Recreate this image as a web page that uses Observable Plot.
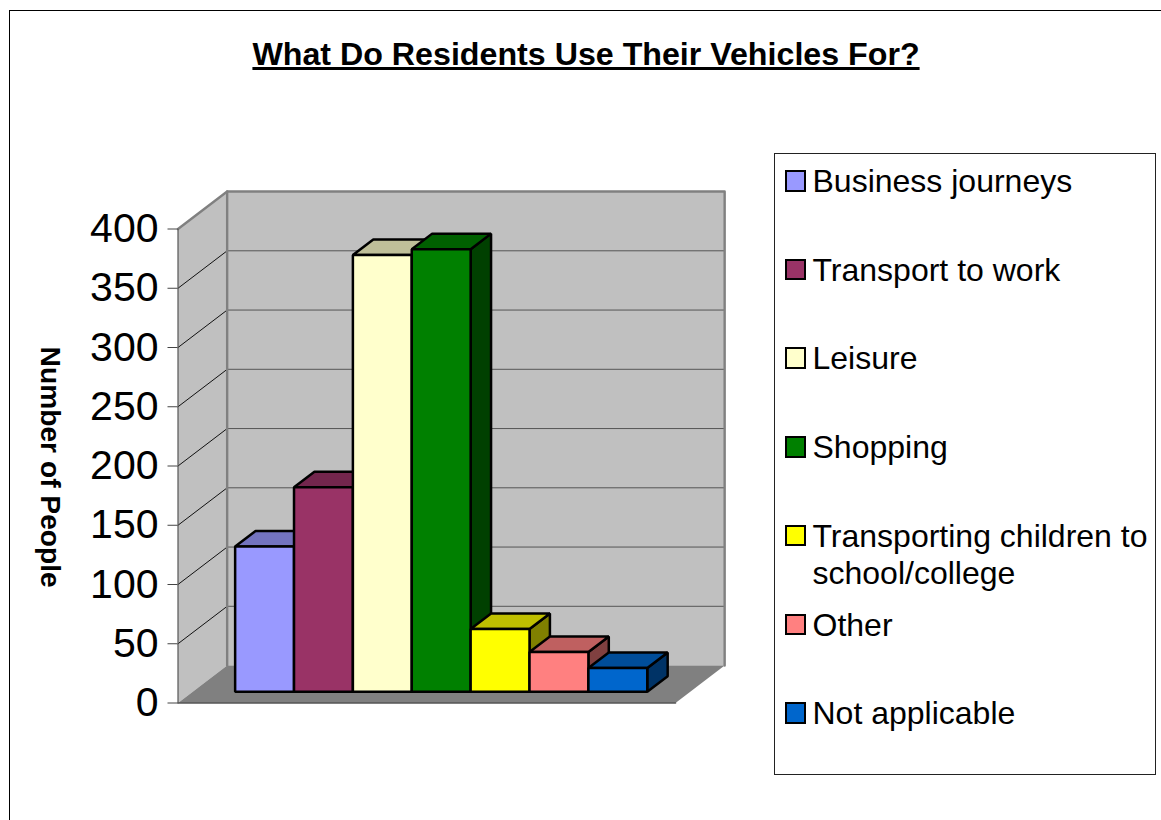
<!DOCTYPE html>
<html>
<head>
<meta charset="utf-8">
<script src="https://cdn.jsdelivr.net/npm/d3@7"></script>
<script src="https://cdn.jsdelivr.net/npm/@observablehq/plot@0.6"></script>
<style>
  html, body { margin: 0; padding: 0; width: 1161px; height: 820px; overflow: hidden; background: #fff; }
  body { position: relative; font-family: "Liberation Sans", Arial, sans-serif; color: #000; }
  #page-border { position: absolute; left: 9px; top: 10px; width: 1300px; height: 1000px; border: 1px solid #000; box-sizing: border-box; }
  #title { position: absolute; left: 0; top: 35px; width: 1172px; text-align: center; font-size: 32.2px; font-weight: bold; text-decoration: underline; line-height: 38px; white-space: nowrap; }
  #chart { position: absolute; left: 0; top: 0; }
  #chart svg { display: block; max-width: none; background: transparent; }
  #legend { position: absolute; left: 774px; top: 153px; width: 382px; height: 622px; border: 1px solid #222; box-sizing: border-box; background: #fff; }
  .item { position: absolute; left: 9.5px; }
  .swatch { position: absolute; left: 0; top: 7px; width: 21.5px; height: 21.5px; border: 2.5px solid #000; box-sizing: border-box; }
  .label { position: absolute; left: 28px; top: 0; font-size: 32px; line-height: 37px; white-space: nowrap; }
</style>
</head>
<body>
<div id="page-border"></div>
<div id="chart"></div>
<div id="title">What Do Residents Use Their Vehicles For?</div>
<div id="legend"></div>
<script>
const categories = ["Business journeys", "Transport to work", "Leisure", "Shopping", "Transporting children to\nschool/college", "Other", "Not applicable"];
const values = [122.5, 172.5, 368.5, 373.5, 53, 33.5, 20];
const colors = ["#9999FF", "#993366", "#FFFFCC", "#008000", "#FFFF00", "#FF8080", "#0066CC"];
const yTicks = [0, 50, 100, 150, 200, 250, 300, 350, 400];
const gridValues = [50, 100, 150, 200, 250, 300, 350];
const yLabel = "Number of People";

// Oblique projection: a point (category c, depth d, value v) in the chart's data units
const xMax = 8.45, yMax = 400;
const depthX = 0.835, depthY = 31.6;
const barFront = 0.30, barBack = 0.715, barStart = 0.72;
const pt = (c, d, v) => ({x: c + d * depthX, y: v + d * depthY});
const shade = (col, k) => { const c = d3.rgb(col); return d3.rgb(c.r * k, c.g * k, c.b * k).formatHex(); };

const poly = (id, fill, corners) => corners.map(([c, d, v]) => ({id, fill, ...pt(c, d, v)}));

const backWall = poly("back", "#C0C0C0", [[0,1,0],[xMax,1,0],[xMax,1,yMax],[0,1,yMax]]);
const leftWall = poly("left", "#C0C0C0", [[0,0,0],[0,1,0],[0,1,yMax],[0,0,yMax]]);
const floor = poly("floor", "#808080", [[0,0,0],[xMax,0,0],[xMax,1,0],[0,1,0]]);

const bars = categories.flatMap((name, i) => {
  const c0 = barStart + i, c1 = c0 + 1, v = values[i], col = colors[i];
  return [
    ...poly(`side${i}`, shade(col, 0.5), [[c1,barFront,0],[c1,barBack,0],[c1,barBack,v],[c1,barFront,v]]),
    ...poly(`top${i}`, shade(col, 0.75), [[c0,barFront,v],[c1,barFront,v],[c1,barBack,v],[c0,barBack,v]]),
    ...poly(`front${i}`, col, [[c0,barFront,0],[c1,barFront,0],[c1,barFront,v],[c0,barFront,v]])
  ];
});

const gridBack = gridValues.flatMap(v => [{g: v, ...pt(0,1,v)}, {g: v, ...pt(xMax,1,v)}]);
const gridLeft = gridValues.flatMap(v => [{g: v, ...pt(0,0,v)}, {g: v, ...pt(0,1,v)}]);
const wallEdges = [
  {g:"a", ...pt(0,0,yMax)}, {g:"a", ...pt(0,1,yMax)}, {g:"a", ...pt(xMax,1,yMax)}, {g:"a", ...pt(xMax,1,0)},
  {g:"b", ...pt(0,1,0)}, {g:"b", ...pt(0,1,yMax)}
];
const floorFront = [{g:"f", ...pt(0,0,0)}, {g:"f", ...pt(xMax,0,0)}];
const axisLine = [{g:"l", ...pt(0,0,0)}, {g:"l", ...pt(0,0,yMax)}];

const faces = (data, o = {}) => Plot.line(data, {x: "x", y: "y", z: "id", fill: d => d.fill, curve: "linear-closed", ...o});

const chart = Plot.plot({
  width: 1161, height: 820,
  marginLeft: 177.5, marginRight: 486, marginTop: 228.5, marginBottom: 117.5,
  style: {fontFamily: "'Liberation Sans', Arial, sans-serif", background: "transparent", overflow: "visible"},
  x: {domain: [0, xMax], axis: null},
  y: {domain: [0, yMax]},
  color: {type: "identity"},
  marks: [
    faces(backWall, {stroke: "none"}),
    faces(leftWall, {stroke: "none"}),
    faces(floor, {stroke: "none"}),
    Plot.line(gridBack, {x: "x", y: "y", z: "g", stroke: "#555", strokeWidth: 1}),
    Plot.line(gridLeft, {x: "x", y: "y", z: "g", stroke: "#111", strokeWidth: 1}),
    Plot.line(wallEdges, {x: "x", y: "y", z: "g", stroke: "#808080", strokeWidth: 2.4}),
    Plot.line(floorFront, {x: "x", y: "y", z: "g", stroke: "#555", strokeWidth: 1.6}),
    Plot.line(axisLine, {x: "x", y: "y", z: "g", stroke: "#555", strokeWidth: 1.2}),
    Plot.axisY({ticks: yTicks, tickSize: 10, tickPadding: 9.5, fontSize: 41, stroke: "#444", label: null, color: "#000"}),
    faces(bars, {stroke: "#000", strokeWidth: 2.5, strokeLinejoin: "miter"}),
    Plot.text([yLabel], {text: d => d, y: () => 199, frameAnchor: "left", dx: -127.5, rotate: 90, textAnchor: "middle", fontSize: 28.2, fontWeight: "bold", fill: "#000"})
  ]
});
document.getElementById("chart").append(chart);

const legend = document.getElementById("legend");
categories.forEach((name, i) => {
  const item = document.createElement("div");
  item.className = "item";
  item.style.top = (9 + i * 88.7) + "px";
  const sw = document.createElement("div");
  sw.className = "swatch";
  sw.style.background = colors[i];
  const lab = document.createElement("div");
  lab.className = "label";
  lab.style.whiteSpace = "pre";
  lab.textContent = name;
  item.append(sw, lab);
  legend.append(item);
});
</script>
</body>
</html>
